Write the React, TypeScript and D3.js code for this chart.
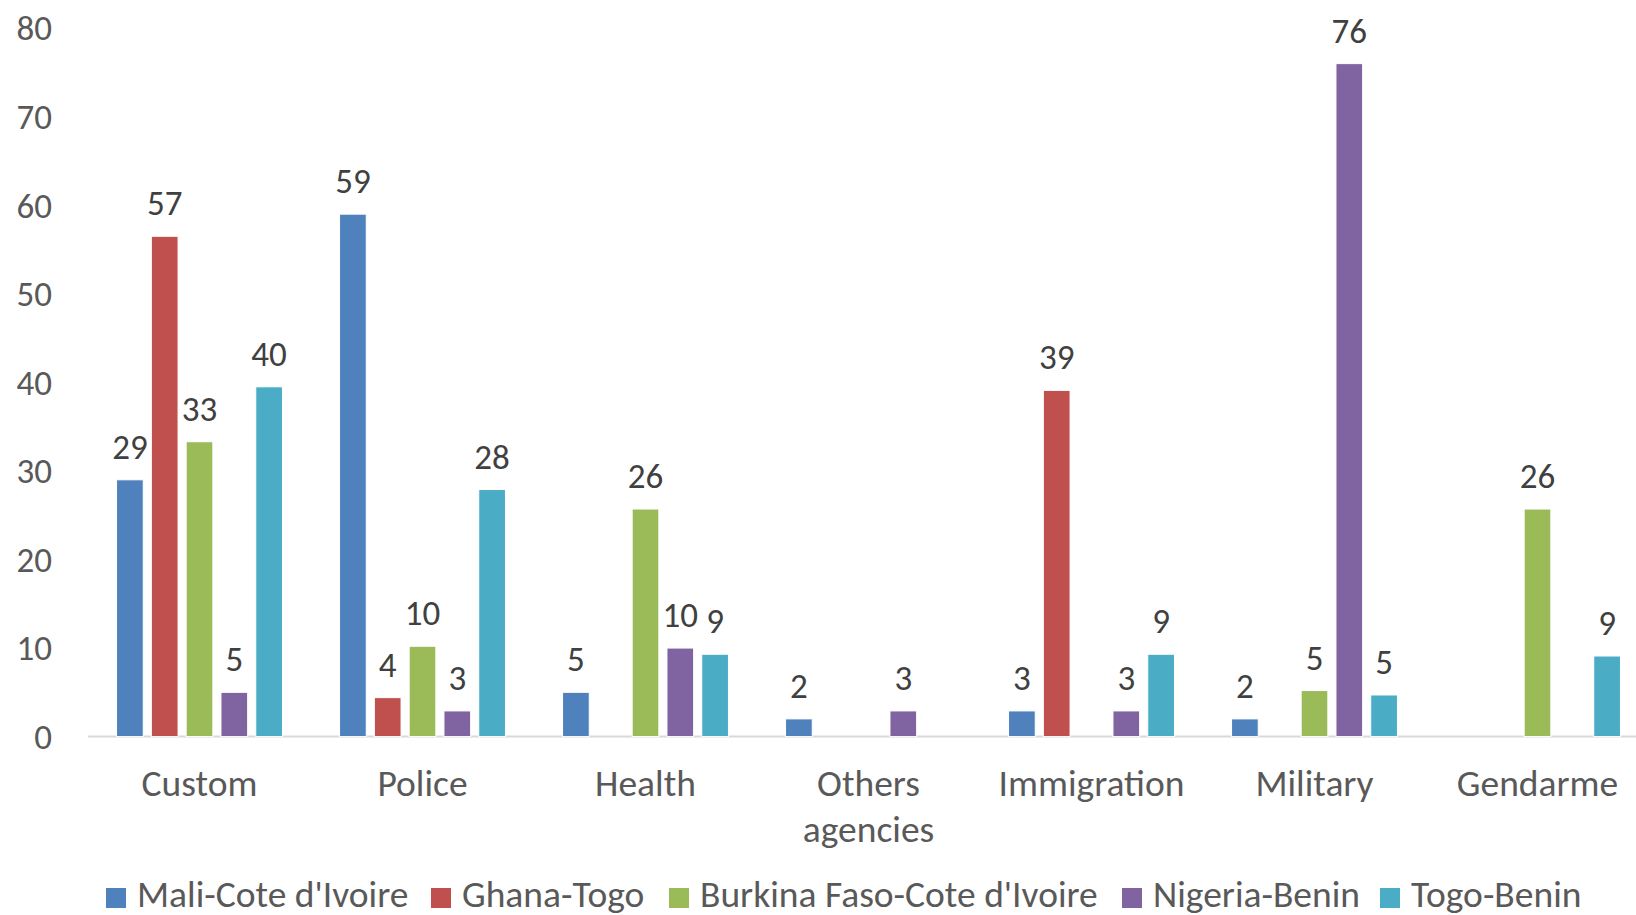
import React from "react";
import * as d3 from "d3";

const categories: string[][] = [
  ["Custom"],
  ["Police"],
  ["Health"],
  ["Others", "agencies"],
  ["Immigration"],
  ["Military"],
  ["Gendarme"],
];
const seriesNames = [
  "Mali-Cote d'Ivoire",
  "Ghana-Togo",
  "Burkina Faso-Cote d'Ivoire",
  "Nigeria-Benin",
  "Togo-Benin",
];
const seriesColors = ["#4F81BD", "#C0504D", "#9BBB59", "#8064A2", "#4BACC6"];

const maliCoteDIvoire: (number | null)[] = [29, 59, 5, 2, 2.9, 2, null];
const ghanaTogo: (number | null)[] = [56.5, 4.4, null, null, 39.1, null, null];
const burkinaFasoCoteDIvoire: (number | null)[] = [33.3, 10.2, 25.7, null, null, 5.2, 25.7];
const nigeriaBenin: (number | null)[] = [5, 2.9, 10, 2.9, 2.9, 76, null];
const togoBenin: (number | null)[] = [39.5, 27.9, 9.3, null, 9.3, 4.7, 9.1];

const seriesValues = [maliCoteDIvoire, ghanaTogo, burkinaFasoCoteDIvoire, nigeriaBenin, togoBenin];
const yTicks = [0, 10, 20, 30, 40, 50, 60, 70, 80];

const FONT = "Carlito, Calibri, Lato, sans-serif";

export default function App() {
  const W = 1636;
  const H = 915;
  const x0 = 88;
  const step = 223;
  const catKeys = categories.map((c) => c.join(" "));
  const x = d3.scaleBand<string>().domain(catKeys).range([x0, x0 + step * catKeys.length]).padding(0);
  const outer = (step - 165.9) / 2;
  const x1 = d3
    .scaleBand<string>()
    .domain(seriesNames)
    .range([outer, step - outer])
    .paddingInner(0.233)
    .paddingOuter(0);
  const y = d3.scaleLinear().domain([0, 80]).range([736.6, 28.2]);
  const fmt = (v: number) => String(Math.round(v));

  const legendX = [106, 431, 669, 1122, 1380];

  return (
    <svg
      width={W}
      height={H}
      style={{ position: "absolute", left: 0, top: 0, background: "#fff" }}
      fontFamily={FONT}
    >
      {yTicks.map((t) => (
        <text
          key={t}
          x={52}
          y={y(t)}
          dy="0.35em"
          textAnchor="end"
          fontSize={35}
          fill="#595959"
        >
          {t}
        </text>
      ))}
      <line x1={x0} x2={W} y1={y(0)} y2={y(0)} stroke="#D9D9D9" strokeWidth={2} />
      {catKeys.map((ck, ci) => (
        <g key={ck} transform={`translate(${x(ck)},0)`}>
          {seriesValues.map((vals, si) => {
            const v = vals[ci];
            if (v == null) return null;
            const bx = x1(seriesNames[si])!;
            const bw = x1.bandwidth();
            return (
              <g key={si}>
                <rect
                  x={bx}
                  y={y(v)}
                  width={bw}
                  height={y(0) - y(v)}
                  fill={seriesColors[si]}
                  stroke="#fff"
                  strokeWidth={1}
                />
                <text
                  x={bx + bw / 2}
                  y={y(v) - 21}
                  textAnchor="middle"
                  fontSize={35}
                  fill="#404040"
                >
                  {fmt(v)}
                </text>
              </g>
            );
          })}
          {categories[ci].map((line, li) => (
            <text
              key={li}
              x={step / 2}
              y={796 + li * 46}
              textAnchor="middle"
              fontSize={37.5}
              fill="#595959"
            >
              {line}
            </text>
          ))}
        </g>
      ))}
      {seriesNames.map((s, i) => (
        <g key={s} transform={`translate(${legendX[i]},0)`}>
          <rect x={0} y={888} width={20} height={20} fill={seriesColors[i]} />
          <text x={31} y={907} fontSize={37.5} fill="#595959">
            {s}
          </text>
        </g>
      ))}
    </svg>
  );
}
